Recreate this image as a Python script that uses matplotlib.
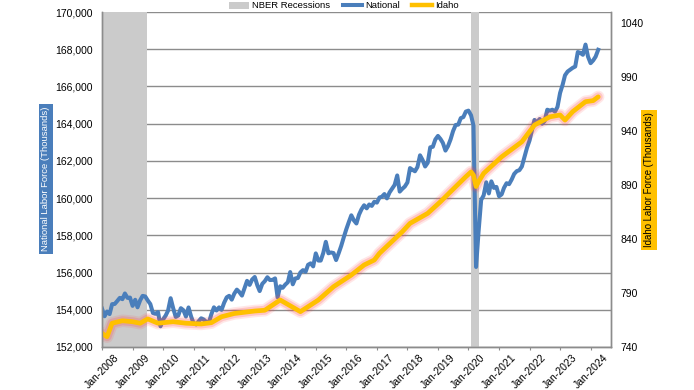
import pandas as pd
import numpy as np
import matplotlib
matplotlib.use("Agg")
import matplotlib.pyplot as plt
import matplotlib.dates as mdates
from matplotlib.lines import Line2D
from matplotlib.patches import Patch
from matplotlib.ticker import FuncFormatter

plt.rcParams['font.family'] = ['Liberation Sans', 'DejaVu Sans']

# National civilian labor force (thousands), monthly from Jan-2008
national = [
    154063, 153653, 153908, 153769, 154303, 154313, 154469, 154641, 154570, 154876, 154639, 154655,  # 2008
    154210, 154538, 154133, 154509, 154747, 154716, 154502, 154307, 153827, 153784, 153878, 153111,  # 2009
    153484, 153694, 153954, 154622, 154091, 153616, 153691, 154086, 153975, 153635, 154125, 153650,  # 2010
    153263, 153214, 153376, 153543, 153479, 153346, 153288, 153760, 154131, 153961, 154128, 153995,  # 2011
    154381, 154671, 154749, 154545, 154866, 155083, 154948, 154763, 155160, 155554, 155338, 155628,  # 2012
    155763, 155312, 155005, 155394, 155536, 155749, 155599, 155605, 155687, 154673, 155265, 155182,  # 2013
    155352, 155483, 156028, 155369, 155684, 155707, 156007, 156130, 156040, 156417, 156494, 156332,  # 2014
    157030, 156644, 156643, 157060, 157651, 157035, 157079, 157049, 156671, 157030, 157430, 157883,  # 2015
    158326, 158723, 159076, 158802, 158637, 159111, 159401, 159615, 159450, 159656, 159583, 159804,  # 2016
    159759, 160033, 160071, 160219, 159986, 160303, 160503, 160709, 161219, 160350, 160500, 160623,  # 2017
    160842, 161615, 161525, 161442, 161672, 162300, 162051, 161700, 161900, 162729, 162758, 163150,  # 2018
    163342, 163173, 162967, 162554, 162790, 163152, 163600, 163930, 163948, 164296, 164355, 164650,  # 2019
    164700, 164450, 163900, 156300, 158200, 159900, 160150, 160850, 160250, 160900, 160550, 160600,  # 2020
    160100, 160200, 160550, 160800, 160750, 161000, 161300, 161450, 161500, 161700, 162200, 162700,  # 2021
    163100, 163700, 164200, 164050, 164250, 164000, 164150, 164750, 164700, 164750, 164650, 164900,  # 2022
    165650, 166100, 166600, 166800, 166900, 167000, 167070, 167850, 167800, 167700, 168250, 167600,  # 2023
    167250, 167400, 167600, 167970,                                                                  # 2024
]

# Idaho labor force (thousands)
idaho_dates = [
    "2008-01", "2008-03", "2008-05", "2008-09", "2009-01", "2009-04", "2009-07", "2009-11",
    "2010-05", "2010-10", "2011-04", "2011-08", "2011-12", "2012-05", "2013-01", "2013-05",
    "2013-11", "2014-07", "2015-02", "2015-08", "2016-03", "2016-08", "2016-12", "2017-02",
    "2017-11", "2018-02", "2018-09", "2019-02", "2019-06", "2019-12", "2020-02", "2020-03",
    "2020-04", "2020-05", "2020-07", "2021-02", "2021-10", "2022-03", "2022-09", "2023-01",
    "2023-03", "2023-06", "2023-11", "2024-02", "2024-04",
]
idaho = [
    752.7, 749.5, 762.0, 764.3, 763.4, 762.0, 766.0, 762.0,
    763.4, 762.0, 761.3, 762.5, 768.0, 771.0, 773.3, 774.0,
    783.5, 772.7, 783.5, 795.8, 806.6, 815.9, 820.5, 826.7,
    846.7, 854.4, 863.7, 874.5, 883.7, 897.6, 902.0, 899.0,
    888.5, 893.0, 900.7, 916.0, 929.9, 945.4, 953.0, 954.7,
    950.0, 957.8, 967.0, 968.0, 971.5,
]

recessions = [("2008-01-01", "2009-06-20"), ("2020-02-01", "2020-05-01")]
year_ticks = [str(y) for y in range(2008, 2025)]

national_dates = pd.date_range("2008-01-01", periods=len(national), freq="MS")
idaho_dt = pd.to_datetime(idaho_dates)

blue = "#4a7ebb"
gold = "#ffc000"
grid_c = "#8c8c8c"
shade = "#cbcbcb"

fig = plt.figure(figsize=(6.94, 3.90), dpi=100)
ax = fig.add_axes([102 / 694, 1 - 347 / 390, 509 / 694, 335 / 390])
ax2 = ax.twinx()

for start, end in recessions:
    ax.axvspan(pd.Timestamp(start), pd.Timestamp(end), color=shade, lw=0, zorder=1)

ax.plot(national_dates, national, color=blue, lw=2.9, solid_joinstyle="round", zorder=3)

# Idaho with soft red glow
ax2.plot(idaho_dt, idaho, color="#ff4040", lw=9, alpha=0.12, solid_capstyle="round")
ax2.plot(idaho_dt, idaho, color="#ff5050", lw=6.5, alpha=0.22, solid_capstyle="round")
ax2.plot(idaho_dt, idaho, color=gold, lw=3.4, solid_capstyle="round", solid_joinstyle="round")

ax.set_xlim(pd.Timestamp("2008-01-01"), pd.Timestamp("2024-09-01"))
ax.set_ylim(152000, 170000)
ax.set_yticks(np.arange(152000, 170001, 2000))
ax.yaxis.set_major_formatter(FuncFormatter(lambda v, p: f"{v:,.0f}"))
ax2.set_ylim(740, 1050)
ax2.set_yticks(np.arange(740, 1041, 50))

ax.set_xticks([pd.Timestamp(y + "-01-01") for y in year_ticks])
ax.xaxis.set_major_formatter(mdates.DateFormatter("%b-%Y"))
for lab in ax.get_xticklabels():
    lab.set_rotation(45)
    lab.set_ha("center")

ax.set_axisbelow(True)
ax.grid(axis="y", color=grid_c, lw=1)
ax.tick_params(axis="y", length=0, pad=6.5, labelsize=7.5)
ax.tick_params(axis="x", length=2.5, color=grid_c, pad=1.5, labelsize=7.5)
ax2.tick_params(axis="y", length=0, pad=6.5, labelsize=7.5)

for a in (ax, ax2):
    for side in ("left", "right", "bottom"):
        a.spines[side].set_color(grid_c)
        a.spines[side].set_linewidth(1)
    a.spines["top"].set_visible(False)

fig.text(46 / 694, 1 - 179 / 390, "National Labor Force (Thousands)", rotation=90,
         ha="center", va="center", fontsize=6.8, color="white",
         bbox=dict(facecolor=blue, edgecolor="none", pad=2))
fig.text(649 / 694, 1 - 180 / 390, "Idaho Labor Force (Thousands)", rotation=90,
         ha="center", va="center", fontsize=6.9, color="black",
         bbox=dict(facecolor=gold, edgecolor="none", pad=2))

handles = [
    Patch(facecolor=shade, edgecolor="none", label="NBER Recessions"),
    Line2D([0], [0], color=blue, lw=2.9, label="National"),
    Line2D([0], [0], color=gold, lw=3.2, label="Idaho"),
]
fig.legend(handles=handles, loc="center", bbox_to_anchor=(344 / 694, 1 - 6 / 390), ncol=3,
           frameon=False, fontsize=6.8, handlelength=2.1, handleheight=0.7,
           handletextpad=0.3, columnspacing=1.3, borderpad=0)

fig.savefig("out.png", dpi=100)
